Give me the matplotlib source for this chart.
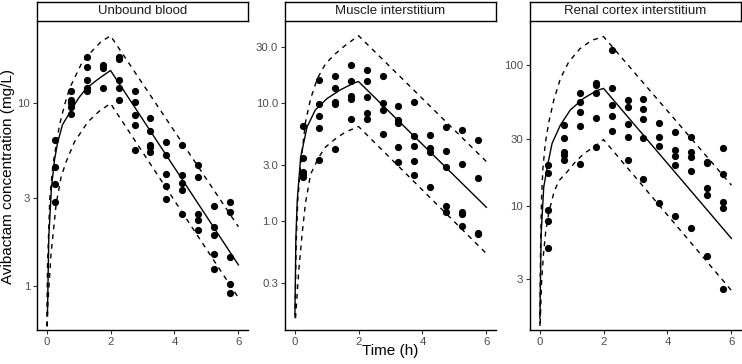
import matplotlib
matplotlib.use("Agg")
from matplotlib import pyplot as plt
from matplotlib.ticker import FixedLocator, FixedFormatter, NullLocator

plt.rcParams['font.family'] = ['Liberation Sans', 'DejaVu Sans']

# ---- observed data (sampling mid-points, h) ----
times = [0.25, 0.75, 1.25, 1.75, 2.25, 2.75, 3.25, 3.75, 4.25, 4.75, 5.25, 5.75]

blood_obs = [
    [6.25, 4.47, 3.58, 2.88],
    [11.6, 10.3, 9.9, 9.5, 8.7],
    [17.8, 15.6, 13.3, 12.1, 11.6],
    [16.1, 15.5, 12.1],
    [17.8, 17.4, 13.3, 12.1, 10.4],
    [11.6, 10.1, 8.6, 7.6, 5.5],
    [8.3, 7.0, 5.9, 5.75, 5.4],
    [6.1, 5.2, 4.07, 3.5, 2.98],
    [5.9, 4.03, 3.66, 3.33, 2.47],
    [4.56, 3.94, 2.47, 2.29, 2.01],
    [2.72, 2.10, 1.89, 1.49, 1.24],
    [2.88, 2.52, 1.44, 1.02, 0.91],
]
muscle_obs = [
    [6.4, 3.41, 2.62, 2.52, 2.38],
    [15.8, 9.87, 7.8, 6.2, 3.30],
    [17.1, 13.5, 10.3, 9.87, 4.09],
    [21.0, 15.6, 11.5, 10.9, 7.3],
    [19.2, 15.6, 11.4, 8.2, 7.4],
    [17.1, 10.0, 8.8, 5.5],
    [9.4, 7.2, 6.85, 4.29, 3.15],
    [10.3, 5.27, 4.36, 3.21, 2.46],
    [5.38, 4.15, 3.88, 1.96],
    [6.25, 3.96, 2.90, 1.34, 1.19],
    [5.93, 3.05, 1.19, 1.15, 0.91],
    [4.88, 2.33, 0.80, 0.78],
]
renal_obs = [
    [19.5, 17.2, 9.4, 7.8, 4.97],
    [37.4, 30.1, 24.2, 22.9, 21.3],
    [63, 54.9, 46.6, 37.1, 19.7],
    [74.8, 72, 63, 41.8, 26.0],
    [128, 69, 52, 43.4, 34.1],
    [56.4, 50, 37.8, 31.0, 21.3],
    [57.3, 48.6, 41.1, 30.1, 15.4],
    [38.5, 31, 26.7, 10.5],
    [33.6, 24.9, 22.7, 19.5, 8.5],
    [30.6, 23.9, 22.3, 17.6, 7.0],
    [20.6, 20.0, 13.3, 12.0, 4.4],
    [25.6, 16.7, 10.7, 9.7, 2.56],
]

# ---- model prediction (median and interval bounds) ----
blood_med_t = [0.027, 0.07, 0.15, 0.25, 0.35, 0.5, 0.77, 1.0, 1.23, 1.5, 1.7, 2.0, 6.0]
blood_med = [0.7, 1.85, 3.4, 4.9, 6.1, 7.6, 9.1, 10.6, 11.9, 13.0, 13.8, 15.0, 1.30]
blood_hi_t = [0.005, 0.03, 0.1, 0.2, 0.4, 0.56, 0.72, 1.08, 1.39, 1.7, 2.0, 6.0]
blood_hi = [0.6, 1.3, 3.0, 4.6, 7.5, 9.7, 12.0, 16.2, 18.9, 21.5, 23.2, 2.1]
blood_lo_t = [0.02, 0.04, 0.14, 0.3, 0.45, 0.6, 0.87, 1.29, 1.65, 2.0, 6.0]
blood_lo = [0.6, 0.8, 1.5, 2.8, 3.9, 4.7, 6.1, 7.85, 9.0, 9.9, 0.86]

muscle_med_t = [0.01, 0.04, 0.083, 0.19, 0.39, 0.65, 1.02, 1.43, 1.84, 2.0, 6.0]
muscle_med = [0.16, 0.72, 1.5, 3.5, 6.3, 8.8, 11.0, 13.0, 14.8, 15.3, 1.31]
muscle_hi_t = [0.015, 0.05, 0.1, 0.19, 0.34, 0.5, 0.71, 0.97, 1.28, 1.59, 2.0, 6.0]
muscle_hi = [0.15, 0.65, 1.5, 3.0, 6.9, 10.9, 16.2, 21.7, 26.4, 31.1, 37.5, 3.2]
muscle_lo_t = [0.03, 0.13, 0.24, 0.34, 0.5, 0.76, 0.97, 1.28, 1.59, 2.0, 6.0]
muscle_lo = [0.15, 0.38, 0.8, 1.42, 2.5, 3.5, 4.26, 5.0, 5.7, 6.35, 0.53]

renal_med_t = [0.01, 0.05, 0.13, 0.24, 0.39, 0.65, 0.96, 1.38, 1.79, 2.0, 6.0]
renal_med = [1.58, 6.4, 13.6, 18.9, 27.7, 37.4, 47.9, 58, 65.8, 68.2, 5.86]
renal_hi_t = [0.01, 0.03, 0.06, 0.1, 0.18, 0.29, 0.45, 0.65, 0.91, 1.27, 1.64, 2.0, 6.0]
renal_hi = [1.4, 5, 11, 18, 28, 39.4, 57, 80, 105, 131, 150, 159, 14.0]
renal_lo_t = [0.02, 0.06, 0.12, 0.19, 0.29, 0.45, 0.6, 0.86, 1.12, 1.38, 1.69, 2.0, 6.0]
renal_lo = [1.45, 2.8, 4.5, 6.5, 9, 12.5, 15, 17.4, 20.5, 23.4, 26.1, 29.5, 2.5]

panels = [
    ("Unbound blood", blood_obs, (blood_med_t, blood_med), (blood_hi_t, blood_hi),
     (blood_lo_t, blood_lo), [1, 3, 10], ["1", "3", "10"], (0.573, 27.6)),
    ("Muscle interstitium", muscle_obs, (muscle_med_t, muscle_med), (muscle_hi_t, muscle_hi),
     (muscle_lo_t, muscle_lo), [0.3, 1, 3, 10, 30], ["0.3", "1.0", "3.0", "10.0", "30.0"],
     (0.119, 49)),
    ("Renal cortex interstitium", renal_obs, (renal_med_t, renal_med), (renal_hi_t, renal_hi),
     (renal_lo_t, renal_lo), [3, 10, 30, 100], ["3", "10", "30", "100"], (1.31, 202)),
]

W, H = 742, 364
fig = plt.figure(figsize=(W / 100, H / 100), dpi=100)
lefts = [37, 285, 530]
pw = 211
top, bottom = 22, 330
grey = '#4D4D4D'

for left, (title, obs, med, hi, lo, yt, ytl, ylim) in zip(lefts, panels):
    ax = fig.add_axes([left / W, (H - bottom) / H, pw / W, (bottom - top) / H])
    for t, vals in zip(times, obs):
        ax.plot([t] * len(vals), vals, 'o', color='black', ms=5.2, mec='none')
    ax.plot(med[0], med[1], color='black', lw=1.0)
    ax.plot(hi[0], hi[1], color='black', lw=1.0, dashes=(3.5, 3.5))
    ax.plot(lo[0], lo[1], color='black', lw=1.0, dashes=(3.5, 3.5))
    ax.set_yscale('log')
    ax.set_xlim(-0.3, 6.3)
    ax.set_ylim(*ylim)
    ax.set_xticks([0, 2, 4, 6])
    ax.yaxis.set_major_locator(FixedLocator(yt))
    ax.yaxis.set_major_formatter(FixedFormatter(ytl))
    ax.yaxis.set_minor_locator(NullLocator())
    ax.spines[['top', 'right']].set_visible(False)
    for s in ['left', 'bottom']:
        ax.spines[s].set_linewidth(1.0)
    ax.tick_params(axis='both', labelsize=8.2, labelcolor=grey, color='#333333',
                   length=3, width=0.8, pad=2)

    sax = fig.add_axes([left / W, (H - 21) / H, pw / W, 19 / H])
    sax.set_xticks([])
    sax.set_yticks([])
    for s in sax.spines.values():
        s.set_linewidth(1.0)
    sax.text(0.5, 0.5, title, ha='center', va='center', fontsize=9.5, color='#1A1A1A',
             transform=sax.transAxes)

fig.text((285 + pw / 2) / W, 1 - 351 / H, "Time (h)", ha='center', va='center', fontsize=11)
fig.text(8 / W, 1 - 176 / H, "Avibactam concentration (mg/L)", ha='center', va='center',
         rotation=90, fontsize=11)

fig.savefig("out.png", dpi=100)
